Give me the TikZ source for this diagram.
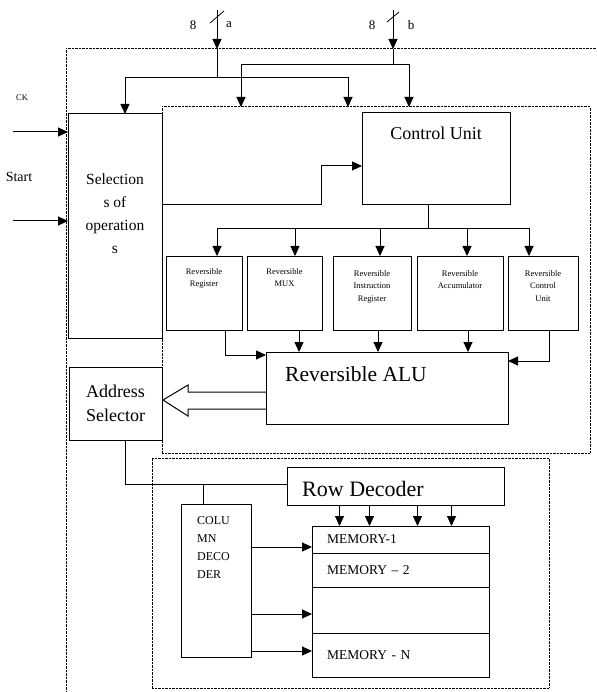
\documentclass[tikz,border=0pt]{standalone}
\usepackage{fontspec}
\setmainfont{Liberation Serif}
\usetikzlibrary{arrows.meta, positioning}

\begin{document}
\begin{tikzpicture}[
    x=1pt, y=-1pt,
    box/.style={draw, line width=1pt, inner sep=0pt, outer sep=0pt, anchor=north west, align=center},
    dotline/.style={line width=1pt, dash pattern=on 0.7pt off 0.7pt},
    dotbox/.style={draw, dotline, inner sep=0pt, outer sep=0pt, anchor=north west},
    txt/.style={inner sep=0pt, align=center},
    smalltxt/.style={txt, anchor=north, font=\fontsize{8.5}{12.5}\selectfont},
    memrow/.style={box, minimum width=177pt, text width=147pt, inner xsep=15pt, align=left, font=\fontsize{13.5}{15}\selectfont},
    line/.style={line width=1pt},
    arrow/.style={-{Triangle[length=10pt, width=9pt]}, line width=1pt}
]
    \path[use as bounding box, fill=white] (0,0) rectangle (596,692);

    % dotted frames
    \draw[dotline] (596,49) -| (66,692);
    \node[dotbox, minimum width=428pt, minimum height=346pt] (cpu) at (162,107) {};
    \node[dotbox, minimum width=397pt, minimum height=230pt] (mem) at (152,458) {};

    % main blocks
    \node[box, minimum width=94pt, minimum height=224pt] (sel) at (68,114) {};
    \node[txt, font=\fontsize{15.5}{23}\selectfont] (seltxt) at ([yshift=12pt]sel.center) {Selection\\s of\\operation\\s};
    \node[box, minimum width=148pt, minimum height=92pt] (cu) at (362,113) {};
    \node[txt, font=\fontsize{18}{20}\selectfont] (cutxt) at ([yshift=-20pt]cu.north) {Control Unit};

    \node[box, minimum width=76pt, minimum height=74pt] (reg) at (166,256) {};
    \node[box, minimum width=75pt, minimum height=74pt, right=5pt of reg] (mux) {};
    \node[box, minimum width=78pt, minimum height=74pt, right=11pt of mux] (ir) {};
    \node[box, minimum width=86pt, minimum height=74pt, right=6pt of ir] (acc) {};
    \node[box, minimum width=70pt, minimum height=74pt, right=5pt of acc] (rcu) {};
    \node[smalltxt] (regtxt) at ([yshift=-12pt]reg.north) {Reversible\\Register};
    \node[smalltxt] (muxtxt) at ([yshift=-12pt]mux.north) {Reversible\\MUX};
    \node[smalltxt] (irtxt) at ([yshift=-14pt]ir.north) {Reversible\\Instruction\\Register};
    \node[smalltxt] (acctxt) at ([yshift=-14pt]acc.north) {Reversible\\Accumulator};
    \node[smalltxt] (rcutxt) at ([yshift=-14pt]rcu.north) {Reversible\\Control\\Unit};

    \node[box, minimum width=242pt, minimum height=72pt] (alu) at (266,352) {};
    \node[txt, anchor=west, font=\fontsize{21.5}{24}\selectfont] (alutxt) at ([xshift=19pt, yshift=-22.5pt]alu.north west) {Reversible ALU};
    \node[box, minimum width=93pt, minimum height=73pt, font=\fontsize{18}{24}\selectfont] (addr) at (69,367) {Address\\Selector};

    \node[box, minimum width=217pt, minimum height=38pt] (row) at (287,467) {};
    \node[txt, anchor=west, font=\fontsize{22}{24}\selectfont] (rowtxt) at ([xshift=15pt, yshift=-21.5pt]row.north west) {Row Decoder};
    \node[box, minimum width=70pt, minimum height=153pt] (col) at (181,504) {};
    \node[txt, anchor=north west, align=left, font=\fontsize{12}{18}\selectfont] (coltxt) at ([xshift=16pt, yshift=-12pt]col.north west) {COLU\\MN\\DECO\\DER};

    \node[memrow, minimum height=27pt] (mem1) at (312,526) {MEMORY-1};
    \node[memrow, minimum height=34pt, below=0pt of mem1] (mem2) {MEMORY -- 2};
    \node[memrow, minimum height=46pt, below=0pt of mem2] (mem3) {};
    \node[memrow, minimum height=44pt, below=0pt of mem3] (memn) {MEMORY - N};

    % inputs
    \node[txt, font=\fontsize{8.5}{9}\selectfont] (cklbl) at (22,98) {CK};
    \node[txt, font=\fontsize{14}{16}\selectfont] (startlbl) at (19,177) {Start};
    \coordinate (ckin) at (13,132);
    \coordinate (startin) at (13,221);
    \draw[arrow] (ckin) -- (ckin -| sel.west);
    \draw[arrow] (startin) -- (startin -| sel.west);

    \node[txt, font=\fontsize{13}{14}\selectfont] (awidth) at (193,25) {8};
    \node[txt, font=\fontsize{13}{14}\selectfont] (albl) at (229,25) {a};
    \node[txt, font=\fontsize{13}{14}\selectfont] (bwidth) at (372,25) {8};
    \node[txt, font=\fontsize{13}{14}\selectfont] (blbl) at (411,25) {b};
    \coordinate (ain) at (217,10);
    \coordinate (bin) at (393,10);
    \draw[arrow] (ain) -- ++(0,39) coordinate (aedge);
    \draw[arrow] (bin) -- ++(0,39) coordinate (bedge);
    \draw[line, line width=0.8pt] ([shift={(-7,13)}]ain) -- ++(14,-12);
    \draw[line, line width=0.8pt] ([shift={(-6,12)}]bin) -- ++(12,-10);
    \draw[line] (aedge) -- ++(0,29) coordinate (abus);
    \draw[line] (bedge) -- ++(0,16) coordinate (bbus);
    \draw[arrow] (abus) -| ([xshift=10pt]sel.north);
    \draw[arrow] (abus) -| ([xshift=186pt]cpu.north west);
    \draw[arrow] (bbus) -| ([xshift=79pt]cpu.north west);
    \draw[arrow] (bbus) -| ([xshift=247pt]cpu.north west);

    % control paths
    \draw[arrow] ([yshift=-91pt]sel.north east) -- ++(159,0) |- ([yshift=-7pt]cu.west);
    \draw[line] ([xshift=-8pt]cu.south) -- ++(0,24) coordinate (cubus);
    \foreach \b/\s in {reg/13, mux/10.5, ir/8, acc/7, rcu/-14}
        \draw[arrow] (cubus) -| ([xshift=\s pt]\b.north);
    \draw[arrow] ([xshift=21pt]reg.south) |- ([yshift=-3pt]alu.north west);
    \foreach \b/\s in {mux/14.5, ir/6, acc/8}
        \draw[arrow] ([xshift=\s pt]\b.south) -- ++(0,22);
    \draw[arrow] ([xshift=6pt]rcu.south) |- ([yshift=-9pt]alu.north east);

    % wide arrow to address selector
    \draw[line] ([yshift=-4pt]alu.west) -- ++(-78,0) -- ++(0,-7) -- ++(-25,15)
        -- ++(25,16) -- ++(0,-7) -- ++(78,0);

    % memory addressing
    \draw[line] ([xshift=9.5pt]addr.south) |- ([yshift=2pt]row.west);
    \draw[line] ([xshift=-13pt]col.north) -- ++(0,-20);
    \foreach \s in {-56,-26,22,56}
        \draw[arrow] ([xshift=\s pt]row.south) -- ++(0,21);
    \foreach \s in {43,110,147}
        \draw[arrow] ([yshift=-\s pt]col.north east) -- ++(61,0);
\end{tikzpicture}
\end{document}
